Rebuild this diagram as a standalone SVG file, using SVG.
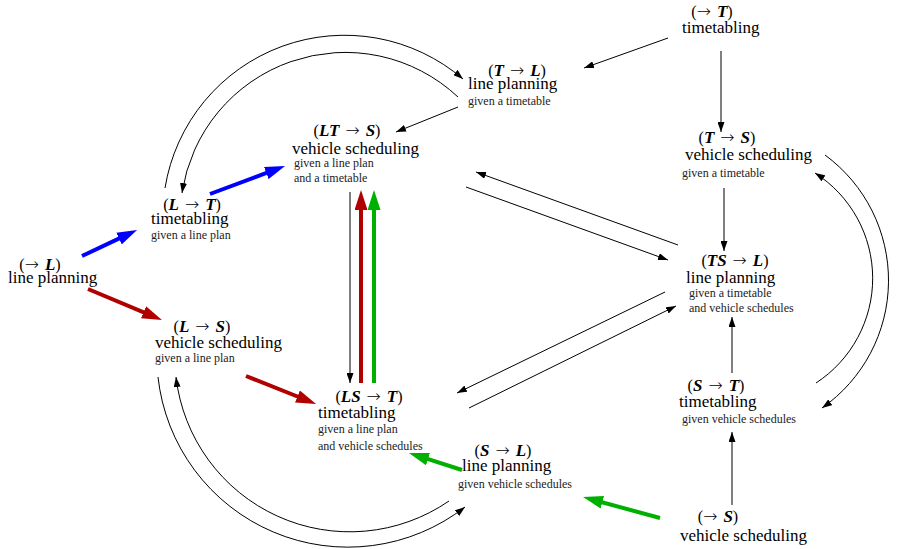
<svg xmlns="http://www.w3.org/2000/svg" width="899" height="549" viewBox="0 0 899 549">
<style>
.h{font-family:"Liberation Serif",serif;font-size:16px;text-anchor:middle;fill:#000}
.v{font-weight:bold;font-style:italic;font-size:17px}
.a{font-family:"DejaVu Sans",sans-serif;font-size:17px;font-weight:200}
.m{font-family:"Liberation Serif",serif;font-size:17px;fill:#000}
.s{font-family:"Liberation Serif",serif;font-size:12px;fill:#222}
.c{fill:none;stroke:#000;stroke-width:1;marker-end:url(#ah)}
.blue{fill:none;stroke:#0000ff;stroke-width:4;marker-end:url(#ab)}
.red{fill:none;stroke:#b00000;stroke-width:4;marker-end:url(#ar)}
.green{fill:none;stroke:#00b000;stroke-width:4;marker-end:url(#ag)}
</style>
<defs>
<marker id="ah" markerUnits="userSpaceOnUse" markerWidth="10" markerHeight="7" refX="10" refY="3.5" orient="auto"><path d="M0,0 L10,3.5 L0,7 z" fill="#000"/></marker>
<marker id="ab" markerUnits="userSpaceOnUse" markerWidth="20" markerHeight="13" refX="8" refY="6.5" orient="auto"><path d="M0,0 L20,6.5 L0,13 z" fill="#0000ff"/></marker>
<marker id="ar" markerUnits="userSpaceOnUse" markerWidth="20" markerHeight="13" refX="8" refY="6.5" orient="auto"><path d="M0,0 L20,6.5 L0,13 z" fill="#b00000"/></marker>
<marker id="ag" markerUnits="userSpaceOnUse" markerWidth="20" markerHeight="13" refX="8" refY="6.5" orient="auto"><path d="M0,0 L20,6.5 L0,13 z" fill="#00b000"/></marker>
</defs>
<rect width="899" height="549" fill="#fff"/>
<g id="connectors">
<path class="c" d="M668,38 L584,68"/>
<path class="c" d="M721,51 L721,132"/>
<path class="c" d="M458,107 L396,132"/>
<path class="c" d="M724,188 L724,251"/>
<path class="c" d="M732,373 L732,317"/>
<path class="c" d="M732,505 L732,432"/>
<path class="c" d="M678,245 L476,172"/>
<path class="c" d="M466,187 L668,260"/>
<path class="c" d="M665,292 L457,393"/>
<path class="c" d="M469,408 L676,306"/>
<path class="c" d="M350,192 L350,383"/>
<path class="c" d="M165,188 A182,182 0 0 1 463,79"/>
<path class="c" d="M458,97 A165,165 0 0 0 182,193"/>
<path class="c" d="M158,377 A191,191 0 0 0 465,507"/>
<path class="c" d="M449,501 A175,175 0 0 1 176,377"/>
<path class="c" d="M825,155 A155.6,155.6 0 0 1 822,408"/>
<path class="c" d="M816,383 A125,125 0 0 0 815,173"/>
<path class="blue" d="M82,256 L126.2,235.1"/>
<path class="blue" d="M210,194 L273.8,170.2"/>
<path class="red" d="M88,289 L150.9,315.4"/>
<path class="red" d="M246,376 L304.9,399.5"/>
<path class="red" d="M361,383 L361,202"/>
<path class="green" d="M374,383 L374,202"/>
<path class="green" d="M462,470 L420.4,456.7"/>
<path class="green" d="M660,518 L594.6,500.2"/>
</g>
<g id="n-L">
<text class="h" x="40" y="270">(<tspan class="a">→</tspan> <tspan class="v" dx="2">L</tspan>)</text>
<text class="m" x="8" y="283">line planning</text>
</g>
<g id="n-LT">
<text class="h" x="192" y="210">(<tspan class="v">L</tspan> <tspan class="a" dx="2">→</tspan> <tspan class="v" dx="2">T</tspan>)</text>
<text class="m" x="151" y="224">timetabling</text>
<text class="s" x="151" y="239">given a line plan</text>
</g>
<g id="n-LS">
<text class="h" x="202" y="332">(<tspan class="v">L</tspan> <tspan class="a" dx="2">→</tspan> <tspan class="v" dx="2">S</tspan>)</text>
<text class="m" x="155" y="348">vehicle scheduling</text>
<text class="s" x="155" y="362">given a line plan</text>
</g>
<g id="n-LTS">
<text class="h" x="347" y="136">(<tspan class="v">LT</tspan> <tspan class="a" dx="2">→</tspan> <tspan class="v" dx="2">S</tspan>)</text>
<text class="m" x="292" y="154">vehicle scheduling</text>
<text class="s" x="294" y="167">given a line plan</text>
<text class="s" x="294" y="182">and a timetable</text>
</g>
<g id="n-TL">
<text class="h" x="517" y="76">(<tspan class="v">T</tspan> <tspan class="a" dx="2">→</tspan> <tspan class="v" dx="2">L</tspan>)</text>
<text class="m" x="468" y="89">line planning</text>
<text class="s" x="468" y="105">given a timetable</text>
</g>
<g id="n-T">
<text class="h" x="712" y="17">(<tspan class="a">→</tspan> <tspan class="v" dx="2">T</tspan>)</text>
<text class="m" x="682" y="33">timetabling</text>
</g>
<g id="n-TS">
<text class="h" x="727" y="143">(<tspan class="v">T</tspan> <tspan class="a" dx="2">→</tspan> <tspan class="v" dx="2">S</tspan>)</text>
<text class="m" x="685" y="160">vehicle scheduling</text>
<text class="s" x="682" y="177">given a timetable</text>
</g>
<g id="n-TSL">
<text class="h" x="735" y="266">(<tspan class="v">TS</tspan> <tspan class="a" dx="2">→</tspan> <tspan class="v" dx="2">L</tspan>)</text>
<text class="m" x="686" y="283">line planning</text>
<text class="s" x="689" y="297">given a timetable</text>
<text class="s" x="689" y="312">and vehicle schedules</text>
</g>
<g id="n-ST">
<text class="h" x="716" y="391">(<tspan class="v">S</tspan> <tspan class="a" dx="2">→</tspan> <tspan class="v" dx="2">T</tspan>)</text>
<text class="m" x="679" y="407">timetabling</text>
<text class="s" x="682" y="423">given vehicle schedules</text>
</g>
<g id="n-S">
<text class="h" x="718" y="522">(<tspan class="a">→</tspan> <tspan class="v" dx="2">S</tspan>)</text>
<text class="m" x="680" y="541">vehicle scheduling</text>
</g>
<g id="n-SL">
<text class="h" x="503" y="456">(<tspan class="v">S</tspan> <tspan class="a" dx="2">→</tspan> <tspan class="v" dx="2">L</tspan>)</text>
<text class="m" x="462" y="471">line planning</text>
<text class="s" x="458" y="488">given vehicle schedules</text>
</g>
<g id="n-LST">
<text class="h" x="369" y="402">(<tspan class="v">LS</tspan> <tspan class="a" dx="2">→</tspan> <tspan class="v" dx="2">T</tspan>)</text>
<text class="m" x="318" y="418">timetabling</text>
<text class="s" x="318" y="433">given a line plan</text>
<text class="s" x="318" y="450">and vehicle schedules</text>
</g>
</svg>
